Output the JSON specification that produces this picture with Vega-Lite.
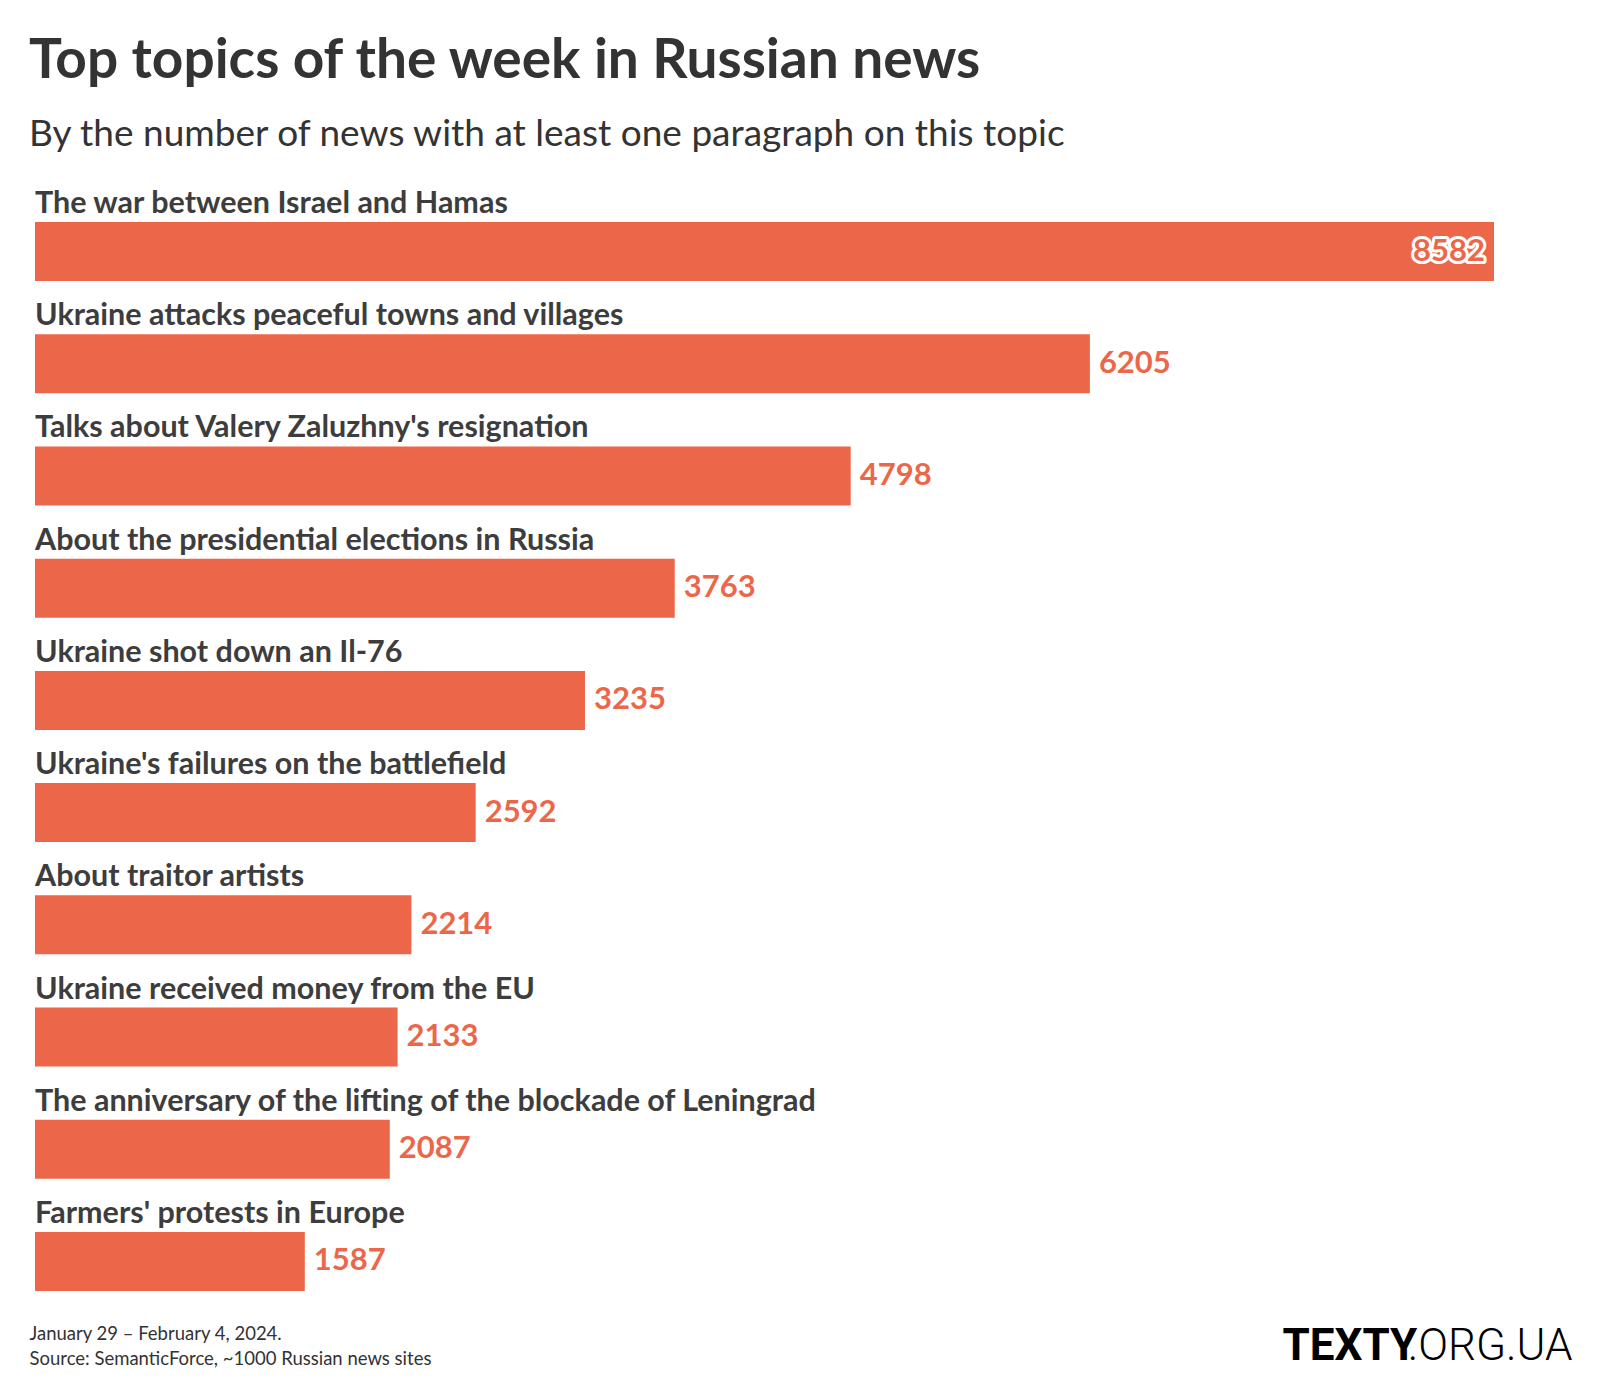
{
  "$schema": "https://vega.github.io/schema/vega-lite/v6.json",
  "width": 1459,
  "height": 1069,
  "autosize": {"type": "none"},
  "padding": {"left": 35, "top": 222, "right": 106, "bottom": 109},
  "background": "white",
  "config": {"view": {"stroke": null}, "font": "Lato"},
  "title": {
    "text": "Top topics of the week in Russian news",
    "subtitle": "By the number of news with at least one paragraph on this topic",
    "anchor": "start",
    "frame": "group",
    "dx": -6,
    "offset": 35,
    "font": "Lato",
    "fontSize": 55,
    "fontWeight": "bold",
    "color": "#333333",
    "subtitleFont": "Lato",
    "subtitleFontSize": 37,
    "subtitleColor": "#333333",
    "subtitlePadding": 27
  },
  "data": {
    "values": [
      {"topic": "The war between Israel and Hamas", "value": 8582},
      {"topic": "Ukraine attacks peaceful towns and villages", "value": 6205},
      {"topic": "Talks about Valery Zaluzhny's resignation", "value": 4798},
      {"topic": "About the presidential elections in Russia", "value": 3763},
      {"topic": "Ukraine shot down an Il-76", "value": 3235},
      {"topic": "Ukraine's failures on the battlefield", "value": 2592},
      {"topic": "About traitor artists", "value": 2214},
      {"topic": "Ukraine received money from the EU", "value": 2133},
      {"topic": "The anniversary of the lifting of the blockade of Leningrad", "value": 2087},
      {"topic": "Farmers' protests in Europe", "value": 1587}
    ]
  },
  "layer": [
    {
      "mark": {"type": "bar", "color": "#EC6749"},
      "encoding": {
        "y": {
          "field": "topic", "type": "nominal", "sort": null,
          "scale": {"paddingInner": 0.474, "paddingOuter": 0},
          "axis": {
            "orient": "right", "title": "TEXTY", "labels": false, "ticks": false, "domain": false, "grid": false,
            "titleAngle": 0, "titleAlign": "left", "titleBaseline": "alphabetic",
            "titleX": -212, "titleY": 1137, "titleFont": "Roboto", "titleFontSize": 44,
            "titleFontWeight": "bold", "titleColor": "#000000"
          }
        },
        "x": {
          "field": "value", "type": "quantitative",
          "scale": {"domain": [0, 8582], "nice": false, "zero": true},
          "axis": null
        }
      }
    },
    {
      "mark": {"type": "text", "align": "left", "baseline": "alphabetic", "dy": -9, "fontSize": 30.5, "fontWeight": "bold", "color": "#3d3d3d", "font": "Lato"},
      "encoding": {
        "y": {
          "field": "topic", "type": "nominal", "sort": null, "bandPosition": 0,
          "axis": {
            "orient": "right", "title": ".ORG.UA", "labels": false, "ticks": false, "domain": false, "grid": false,
            "titleAngle": 0, "titleAlign": "right", "titleBaseline": "alphabetic",
            "titleX": 78, "titleY": 1137, "titleFont": "Roboto", "titleFontSize": 44,
            "titleFontWeight": 300, "titleColor": "#000000"
          }
        },
        "x": {"datum": 0, "type": "quantitative", "axis": null},
        "text": {"field": "topic"}
      }
    },
    {
      "transform": [{"filter": "datum.value < 8000"}],
      "mark": {"type": "text", "align": "left", "baseline": "middle", "dx": 9, "fontSize": 31, "fontWeight": "bold", "fill": "#EC6749", "font": "Lato"},
      "encoding": {
        "y": {
          "field": "topic", "type": "nominal", "sort": null,
          "axis": {
            "orient": "left", "title": ["January 29 – February 4, 2024.", "Source: SemanticForce, ~1000 Russian news sites"],
            "labels": false, "ticks": false, "domain": false, "grid": false,
            "titleAngle": 0, "titleAlign": "left", "titleBaseline": "alphabetic",
            "titleX": -6, "titleY": 1117, "titleLineHeight": 25.7,
            "titleFont": "Lato", "titleFontSize": 18.5, "titleFontWeight": "normal", "titleColor": "#333333"
          }
        },
        "x": {"field": "value", "type": "quantitative", "axis": null},
        "text": {"field": "value", "type": "quantitative", "format": "d"}
      }
    },
    {
      "transform": [{"filter": "datum.value >= 8000"}],
      "mark": {"type": "text", "align": "right", "baseline": "middle", "dx": -9, "fontSize": 31, "fontWeight": "bold", "fill": "white", "stroke": "white", "strokeWidth": 6, "strokeJoin": "round", "font": "Lato"},
      "encoding": {
        "y": {"field": "topic", "type": "nominal", "sort": null, "axis": null},
        "x": {"field": "value", "type": "quantitative", "axis": null},
        "text": {"field": "value", "type": "quantitative", "format": "d"}
      }
    },
    {
      "transform": [{"filter": "datum.value >= 8000"}],
      "mark": {"type": "text", "align": "right", "baseline": "middle", "dx": -9, "fontSize": 31, "fontWeight": "bold", "fill": "#EC6749", "font": "Lato"},
      "encoding": {
        "y": {"field": "topic", "type": "nominal", "sort": null, "axis": null},
        "x": {"field": "value", "type": "quantitative", "axis": null},
        "text": {"field": "value", "type": "quantitative", "format": "d"}
      }
    }
  ],
  "resolve": {"axis": {"y": "independent"}}
}
